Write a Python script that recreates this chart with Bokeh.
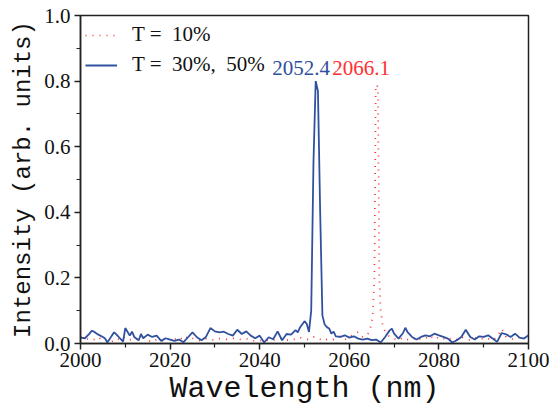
from bokeh.plotting import figure
from bokeh.models import FixedTicker, Legend, LegendItem, Label, Range1d
from bokeh.embed import file_html
from bokeh.resources import INLINE

# ---- data ----
blue_wl = [2000, 2001, 2002, 2002.5, 2003, 2004, 2005, 2005.5, 2006, 2007, 2007.5, 2008, 2009, 2009.5,
           2010, 2011, 2011.5, 2012, 2013, 2013.5, 2014, 2015, 2016, 2017, 2018, 2019, 2020,
           2021, 2022, 2023, 2024, 2025, 2026, 2027, 2028, 2029, 2030, 2031, 2032, 2033, 2034,
           2035, 2036, 2037, 2038, 2039, 2040, 2041, 2042, 2043, 2044, 2045, 2046, 2047, 2048,
           2048.5, 2049, 2050, 2050.5, 2051, 2051.5, 2052, 2052.5, 2053, 2053.5, 2054, 2054.5,
           2055, 2055.5, 2056, 2056.5, 2057, 2058, 2059, 2060, 2061, 2062, 2063, 2064, 2065,
           2066, 2067, 2068, 2069, 2069.5, 2070, 2071, 2072, 2072.5, 2073, 2074, 2075, 2076,
           2077, 2078, 2079, 2080, 2081, 2082, 2083, 2084, 2085, 2086, 2087, 2088, 2089, 2090,
           2091, 2092, 2093, 2094, 2095, 2096, 2097, 2098, 2099, 2100]
blue_int = [0.018, 0.016, 0.030, 0.039, 0.036, 0.027, 0.020, 0.015, 0.003, 0.024, 0.034, 0.028, 0.013, 0.006,
            0.047, 0.024, 0.036, 0.020, 0.010, 0.029, 0.016, 0.027, 0.020, 0.024, 0.008, 0.016, 0.012,
            0.008, 0.012, 0.004, 0.019, 0.034, 0.019, 0.010, 0.020, 0.047, 0.037, 0.034, 0.036, 0.029, 0.024,
            0.042, 0.029, 0.037, 0.024, 0.016, 0.024, 0.003, 0.019, 0.013, 0.037, 0.010, 0.029, 0.027, 0.041,
            0.034, 0.049, 0.068, 0.060, 0.035, 0.100, 0.550, 0.800, 0.770, 0.400, 0.085, 0.058,
            0.050, 0.046, 0.030, 0.036, 0.022, 0.020, 0.025, 0.018, 0.022, 0.015, 0.012, 0.015, 0.010,
            0.012, 0.003, 0.020, 0.040, 0.045, 0.030, 0.015, 0.032, 0.048, 0.035, 0.020, 0.012, 0.020,
            0.025, 0.022, 0.030, 0.025, 0.020, 0.015, 0.003, 0.010, 0.020, 0.042, 0.020, 0.012, 0.022, 0.020,
            0.025, 0.015, 0.005, 0.032, 0.028, 0.020, 0.030, 0.018, 0.015, 0.025]

red_wl = [2000, 2001, 2002, 2003, 2004, 2005, 2006, 2007, 2008, 2009, 2010, 2011, 2012, 2013, 2014,
          2015, 2016, 2017, 2018, 2019, 2020, 2021, 2022, 2023, 2024, 2025, 2026, 2027, 2028, 2029,
          2030, 2031, 2032, 2033, 2034, 2035, 2036, 2037, 2038, 2039, 2040, 2041, 2042, 2043, 2044,
          2045, 2046, 2047, 2048, 2049, 2050, 2051, 2052, 2053, 2054, 2055, 2056, 2057, 2058, 2059,
          2060, 2061, 2062, 2063, 2064, 2064.6, 2065.2, 2065.6, 2065.9, 2066.1, 2066.4, 2066.7,
          2067.0, 2067.4, 2068, 2069, 2070, 2071, 2072, 2073, 2074, 2075, 2076, 2077, 2078, 2079,
          2080, 2081, 2082, 2083, 2084, 2085, 2086, 2087, 2088, 2089, 2090, 2091, 2092, 2093, 2094,
          2095, 2096, 2097, 2098, 2099, 2100]
red_int = [0.020, 0.018, 0.010, 0.012, 0.020, 0.008, 0.012, 0.006, 0.015, 0.010, 0.020, 0.012, 0.008, 0.015, 0.018,
           0.010, 0.004, 0.012, 0.010, 0.006, 0.015, 0.012, 0.020, 0.010, 0.022, 0.016, 0.010, 0.008, 0.014, 0.012,
           0.010, 0.015, 0.013, 0.012, 0.016, 0.014, 0.012, 0.015, 0.010, 0.008, 0.010, 0.006, 0.012, 0.010, 0.014,
           0.016, 0.010, 0.014, 0.012, 0.018, 0.014, 0.012, 0.020, 0.018, 0.008, 0.012, 0.010, 0.015, 0.022, 0.012,
           0.020, 0.028, 0.035, 0.020, 0.025, 0.040, 0.080, 0.200, 0.780, 0.790, 0.780, 0.200,
           0.100, 0.060, 0.035, 0.020, 0.015, 0.010, 0.018, 0.012, 0.010, 0.020, 0.012, 0.015, 0.025, 0.012,
           0.020, 0.015, 0.010, 0.018, 0.012, 0.020, 0.014, 0.010, 0.016, 0.020, 0.012, 0.015, 0.010, 0.020, 0.045,
           0.020, 0.015, 0.012, 0.020, 0.015, 0.030]

x_ticks = [2000, 2020, 2040, 2060, 2080, 2100]
x_minor = [2010, 2030, 2050, 2070, 2090]
y_ticks = [0.0, 0.2, 0.4, 0.6, 0.8, 1.0]
y_tick_labels = ["0.0", "0.2", "0.4", "0.6", "0.8", "1.0"]
y_minor = [0.1, 0.3, 0.5, 0.7, 0.9]

x_title = "Wavelength (nm)"
y_title = "Intensity (arb. units)"
peak_labels = ["2052.4", "2066.1"]
legend_labels = ["T =  10%", "T =  30%,  50%"]

BLUE = "#3050a0"
RED = "#ff3030"
SERIF = "Liberation Serif"
MONO = "Liberation Mono"

p = figure(width=549, height=409, output_backend="svg", toolbar_location=None,
           x_range=Range1d(2000, 2100), y_range=Range1d(0, 1.0),
           min_border_left=80, min_border_right=21, min_border_top=15, min_border_bottom=66)
p.grid.visible = False
p.background_fill_color = "white"
p.border_fill_color = "white"
p.outline_line_color = "#222222"
p.outline_line_width = 1.5

r_red = p.line(red_wl, red_int, line_color=RED, line_width=1.7, line_dash="1 6")
r_blue = p.line(blue_wl, blue_int, line_color=BLUE, line_width=1.8)

p.xaxis.ticker = FixedTicker(ticks=x_ticks, minor_ticks=x_minor)
p.yaxis.ticker = FixedTicker(ticks=y_ticks, minor_ticks=y_minor)
p.yaxis.major_label_overrides = {t: l for t, l in zip(y_ticks, y_tick_labels)}

for ax in (p.xaxis[0], p.yaxis[0]):
    ax.axis_line_width = 1.5
    ax.axis_line_color = "#222222"
    ax.major_tick_in = 0
    ax.major_tick_out = 6
    ax.minor_tick_in = 0
    ax.minor_tick_out = 4
    ax.major_tick_line_width = 1.5
    ax.minor_tick_line_width = 1.2
    ax.major_tick_line_color = "#222222"
    ax.minor_tick_line_color = "#222222"
    ax.major_label_text_font = SERIF
    ax.major_label_text_font_size = "21px"
    ax.major_label_text_color = "#111111"
    ax.axis_label_text_font = MONO
    ax.axis_label_text_font_style = "normal"
    ax.axis_label_text_color = "#111111"

p.xaxis.axis_label = x_title
p.xaxis.axis_label_text_font_size = "30px"
p.xaxis.major_label_standoff = 3
p.xaxis.axis_label_standoff = 2
p.yaxis.axis_label = y_title
p.yaxis.axis_label_text_font_size = "24px"
p.yaxis.major_label_standoff = 4
p.yaxis.axis_label_standoff = 4

legend = Legend(items=[LegendItem(label=legend_labels[0], renderers=[r_red]),
                       LegendItem(label=legend_labels[1], renderers=[r_blue])],
                location=(0, 261), margin=0, padding=5, spacing=5,
                glyph_width=32, glyph_height=20, label_height=20, label_standoff=15,
                label_text_font=SERIF, label_text_font_size="21px", label_text_color="#111111",
                background_fill_alpha=0, border_line_alpha=0)
p.add_layout(legend, "center")

p.add_layout(Label(x=2042.8, y=0.841, text=peak_labels[0], text_color=BLUE,
                   text_font=SERIF, text_font_size="21px", text_baseline="middle"))
p.add_layout(Label(x=2056.2, y=0.841, text=peak_labels[1], text_color=RED,
                   text_font=SERIF, text_font_size="21px", text_baseline="middle"))

open("out.html", "w").write(file_html(p, INLINE))
